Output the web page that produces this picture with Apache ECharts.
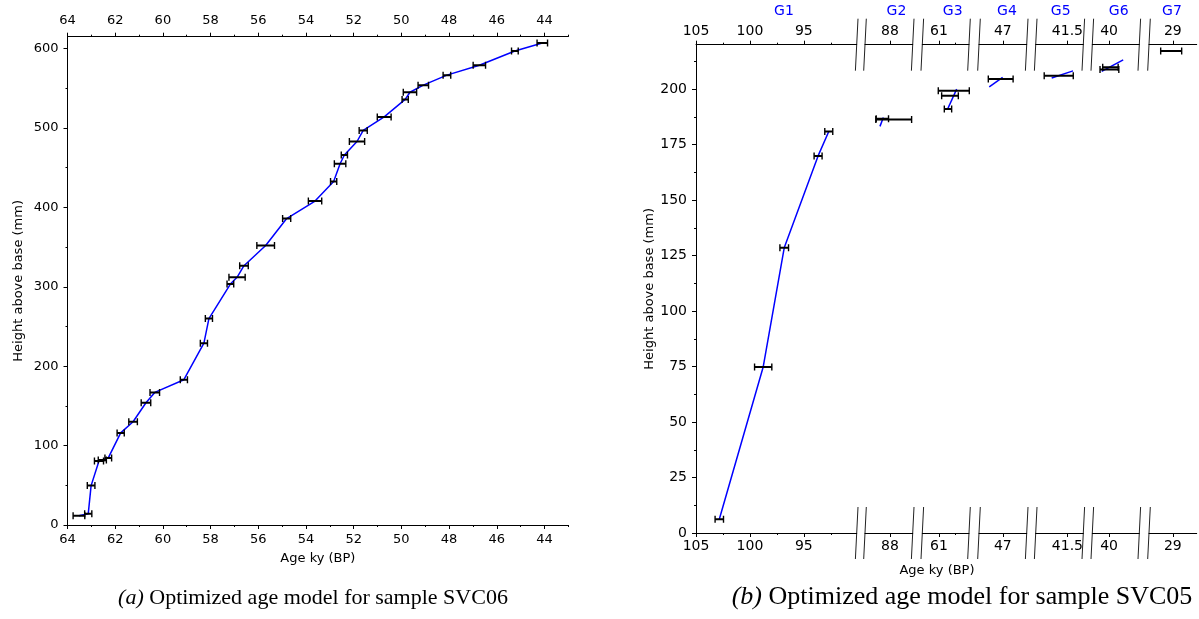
<!DOCTYPE html>
<html><head><meta charset="utf-8">
<script src="https://cdn.jsdelivr.net/npm/echarts@6/dist/echarts.min.js"></script>
<style>html,body{margin:0;padding:0;background:#fff}#c{width:1199px;height:619px}</style>
</head><body><div id="c"></div>
<script>
// ---------- (a) SVC06 ----------
const svc06Age = [63.52,63.13,63.01,62.68,62.54,62.29,61.77,61.25,60.71,60.34,59.12,58.28,58.07,57.17,56.89,56.60,55.69,54.81,53.62,52.84,52.57,52.39,51.86,51.60,50.72,49.84,49.64,49.08,48.09,46.73,45.24,44.09];
const svc06Height = [11.7,14.3,49.6,80.7,82,84.5,116,130,154,167,183,229,260,303.5,312,326.6,352,386,408,432.5,455,466,483,497,514,536,545,554,566.6,579,597,607];
const svc06Err = [0.245,0.15,0.16,0.19,0.17,0.14,0.15,0.18,0.2,0.2,0.15,0.15,0.15,0.14,0.34,0.18,0.37,0.17,0.28,0.13,0.24,0.13,0.32,0.17,0.29,0.13,0.28,0.22,0.16,0.26,0.14,0.22];
const svc06XDomain = [64, 43];
const svc06XTicks = [64,62,60,58,56,54,52,50,48,46,44];
const svc06XMinor = [63,61,59,57,55,53,51,49,47,45,43];
const svc06YDomain = [0, 615];
const svc06YTicks = [0,100,200,300,400,500,600];
const svc06YMinor = [50,150,250,350,450,550];

// ---------- (b) SVC05 ----------
const svc05Groups = ['G1','G2','G3','G4','G5','G6','G7'];
const svc05Domain = [[105,90.1],[90.3,85.9],[61.5,60.1],[48,46],[42,41.25],[40.5,39.1],[30,28]];
const svc05Ticks = [[105,100,95],[88],[61],[47],[41.5],[40],[29]];
const svc05Minor = [[102.5,97.5,92.5],[],[60.5],[],[],[],[]];
const svc05YDomain = [0, 220];
const svc05YTicks = [0,25,50,75,100,125,150,175,200];
const svc05YMinor = [12.5,37.5,62.5,87.5,112.5,137.5,162.5,187.5,212.5];
// dated samples per group: age, height, age error
const svc05Age = [[102.84,98.77,96.82,93.68,92.69],[88.7,87.65],[60.556,60.67,60.73],[47.09],[41.637],[39.96,39.99],[29.07]];
const svc05Height = [[6.2,74.8,128.5,169.9,180.9],[186.6,186.3],[199.2,197,191],[204.5],[206],[209.8,208.8],[217.2]];
const svc05Err = [[0.39,0.8,0.4,0.37,0.37],[0.57,1.65],[0.465,0.25,0.11],[0.52],[0.229],[0.23,0.28],[0.44]];
// age model line per group
const svc05ModelAge = [[102.84,98.77,96.82,93.68,92.69],[88.92,88.61],[60.75,60.47],[47.57,47.01],[41.748,41.412],[40.22,39.58],[]];
const svc05ModelHeight = [[6.2,74.8,128.5,169.9,180.9],[183.2,187.2],[190.7,200],[201.0,205.3],[205.0,208.2],[208,213.2],[]];

// ---------- layout ----------
const lGrid = {left:67.5, top:36.7, width:500.8, height:488.3};
const segLeft = [696, 865, 922.3, 979, 1035.7, 1092.3, 1149];
const segWidth = [160.7, 47.7, 46.7, 47.7, 47.6, 47, 47.7];
const rTop = 44.7, rBottom = 533;
const gLabelX = [784, 896.5, 952.7, 1007, 1060.7, 1118.7, 1172];

const FONT = 'DejaVu Sans';
const BLUE = '#0000ff';

function xAxisMajor(grid, dom, ticks, pos, fs, margin, extra) {
  return Object.assign({
    type:'value', gridIndex:grid, position:pos, inverse:true,
    min:Math.min(dom[0],dom[1]), max:Math.max(dom[0],dom[1]),
    axisLine:{show:true, onZero:false, lineStyle:{color:'#000', width:1}},
    axisTick:{show:true, inside:false, length:4, customValues:ticks, lineStyle:{color:'#000', width:1}},
    axisLabel:{show:true, customValues:ticks, color:'#000', fontSize:fs, fontFamily:FONT, margin:margin},
    splitLine:{show:false}, minorTick:{show:false}, minorSplitLine:{show:false}
  }, extra||{});
}
function xAxisMinor(grid, dom, ticks, pos) {
  return {
    type:'value', gridIndex:grid, position:pos, inverse:true,
    min:Math.min(dom[0],dom[1]), max:Math.max(dom[0],dom[1]),
    axisLine:{show:false, onZero:false},
    axisTick:{show:true, inside:false, length:2, customValues:ticks, lineStyle:{color:'#000', width:1}},
    axisLabel:{show:false}, splitLine:{show:false}
  };
}
function yAxisMajor(grid, dom, ticks, fs, margin, extra) {
  return Object.assign({
    type:'value', gridIndex:grid, position:'left', min:dom[0], max:dom[1],
    axisLine:{show:true, onZero:false, lineStyle:{color:'#000', width:1}},
    axisTick:{show:true, inside:false, length:4, customValues:ticks, lineStyle:{color:'#000', width:1}},
    axisLabel:{show:true, customValues:ticks, color:'#000', fontSize:fs, fontFamily:FONT, margin:margin},
    splitLine:{show:false}
  }, extra||{});
}
function yAxisMinor(grid, dom, ticks) {
  return {
    type:'value', gridIndex:grid, position:'left', min:dom[0], max:dom[1],
    axisLine:{show:false, onZero:false},
    axisTick:{show:true, inside:false, length:2, customValues:ticks, lineStyle:{color:'#000', width:1}},
    axisLabel:{show:false}, splitLine:{show:false}
  };
}

function renderErr(params, api) {
  const x = api.value(0), y = api.value(1), e = api.value(2);
  const p1 = api.coord([x - e, y]), p2 = api.coord([x + e, y]);
  const cap = 3.5;
  const st = {stroke:'#000', lineWidth:2};
  const cs = {stroke:'#000', lineWidth:1.4};
  return {type:'group', children:[
    {type:'line', shape:{x1:p1[0], y1:p1[1], x2:p2[0], y2:p2[1]}, style:st},
    {type:'line', shape:{x1:p1[0], y1:p1[1]-cap, x2:p1[0], y2:p1[1]+cap}, style:cs},
    {type:'line', shape:{x1:p2[0], y1:p2[1]-cap, x2:p2[0], y2:p2[1]+cap}, style:cs}
  ]};
}

const grids = [], xAxes = [], yAxes = [], series = [], graphics = [];

// ----- chart (a) -----
grids.push(Object.assign({}, lGrid, {containLabel:false, outerBoundsMode:'none'}));
const aX = xAxes.length;
xAxes.push(xAxisMajor(0, svc06XDomain, svc06XTicks, 'bottom', 13, 8, {
  name:'Age ky (BP)', nameLocation:'middle', nameGap:27,
  nameTextStyle:{color:'#000', fontSize:13, fontFamily:FONT}
}));
xAxes.push(xAxisMinor(0, svc06XDomain, svc06XMinor, 'bottom'));
xAxes.push(xAxisMajor(0, svc06XDomain, svc06XTicks, 'top', 13, 10));
xAxes.push(xAxisMinor(0, svc06XDomain, svc06XMinor, 'top'));
const aY = yAxes.length;
yAxes.push(yAxisMajor(0, svc06YDomain, svc06YTicks, 13, 9, {
  name:'Height above base (mm)', nameLocation:'middle', nameGap:42,
  nameTextStyle:{color:'#000', fontSize:13, fontFamily:FONT}
}));
yAxes.push(yAxisMinor(0, svc06YDomain, svc06YMinor));

series.push({
  type:'line', xAxisIndex:aX, yAxisIndex:aY, showSymbol:false, symbol:'none',
  lineStyle:{color:BLUE, width:1.5}, z:2, animation:false,
  data: svc06Age.map((a,i)=>[a, svc06Height[i]])
});
series.push({
  type:'custom', xAxisIndex:aX, yAxisIndex:aY, renderItem:renderErr, z:3, animation:false, clip:true,
  data: svc06Age.map((a,i)=>[a, svc06Height[i], svc06Err[i]])
});

// ----- chart (b) -----
svc05Groups.forEach((g, k) => {
  const gi = grids.length;
  grids.push({left:segLeft[k], top:rTop, width:segWidth[k], height:rBottom-rTop, containLabel:false, outerBoundsMode:'none'});
  const bx = xAxes.length;
  xAxes.push(xAxisMajor(gi, svc05Domain[k], svc05Ticks[k], 'bottom', 14, 6));
  if (svc05Minor[k].length) xAxes.push(xAxisMinor(gi, svc05Domain[k], svc05Minor[k], 'bottom'));
  xAxes.push(xAxisMajor(gi, svc05Domain[k], svc05Ticks[k], 'top', 14, 6));
  if (svc05Minor[k].length) xAxes.push(xAxisMinor(gi, svc05Domain[k], svc05Minor[k], 'top'));
  const by = yAxes.length;
  if (k === 0) {
    yAxes.push(yAxisMajor(gi, svc05YDomain, svc05YTicks, 14, 9, {
      name:'Height above base (mm)', nameLocation:'middle', nameGap:38,
      nameTextStyle:{color:'#000', fontSize:13, fontFamily:FONT}
    }));
    yAxes.push(yAxisMinor(gi, svc05YDomain, svc05YMinor));
  } else {
    yAxes.push({type:'value', gridIndex:gi, min:svc05YDomain[0], max:svc05YDomain[1], show:false});
  }
  if (svc05ModelAge[k].length) {
    series.push({
      type:'line', xAxisIndex:bx, yAxisIndex:by, showSymbol:false, symbol:'none',
      lineStyle:{color:BLUE, width:1.5}, z:2, animation:false, clip:true,
      data: svc05ModelAge[k].map((a,i)=>[a, svc05ModelHeight[k][i]])
    });
  }
  series.push({
    type:'custom', xAxisIndex:bx, yAxisIndex:by, renderItem:renderErr, z:3, animation:false, clip:true,
    data: svc05Age[k].map((a,i)=>[a, svc05Height[k][i], svc05Err[k][i]])
  });
  graphics.push({type:'text', x:gLabelX[k], y:11, style:{text:g, fill:BLUE, fontSize:14, fontFamily:FONT, align:'center', verticalAlign:'middle'}});
});

// break marks between segments
for (let k = 0; k < segLeft.length - 1; k++) {
  const edges = [segLeft[k] + segWidth[k], segLeft[k+1]];
  edges.forEach(x => {
    [rTop, rBottom].forEach(y => {
      graphics.push({type:'line', shape:{x1:x+1.3, y1:y-26, x2:x-1.3, y2:y+26}, style:{stroke:'#222', lineWidth:1}});
    });
  });
}

graphics.push({type:'text', x:937, y:571, style:{text:'Age ky (BP)', fill:'#000', fontSize:13, fontFamily:FONT, align:'center', verticalAlign:'middle'}});
graphics.push({type:'text', x:313, y:598, style:{
  text:'{i|(a)} Optimized age model for sample SVC06', fill:'#000', fontSize:22, fontFamily:'Liberation Serif', align:'center', verticalAlign:'middle',
  rich:{i:{fontStyle:'italic', fontSize:22, fontFamily:'Liberation Serif', fill:'#000'}}
}});
graphics.push({type:'text', x:962, y:597, style:{
  text:'{i|(b)} Optimized age model for sample SVC05', fill:'#000', fontSize:26, fontFamily:'Liberation Serif', align:'center', verticalAlign:'middle',
  rich:{i:{fontStyle:'italic', fontSize:26, fontFamily:'Liberation Serif', fill:'#000'}}
}});

const chart = echarts.init(document.getElementById('c'), null, {renderer:'canvas'});
chart.setOption({
  animation:false,
  backgroundColor:'#fff',
  grid:grids, xAxis:xAxes, yAxis:yAxes, series:series, graphic:graphics
});
</script></body></html>
